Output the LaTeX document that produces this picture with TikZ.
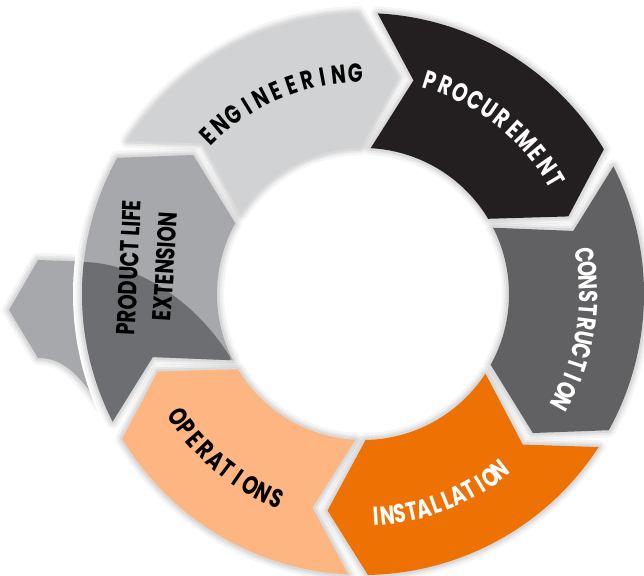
\documentclass[tikz,border=0pt]{standalone}
\usepackage{fontspec}
\newfontfamily\lblfont{Poppins}[FakeStretch=0.75]
\definecolor{engc}{HTML}{D1D2D4}
\definecolor{proc}{HTML}{231F20}
\definecolor{conc}{HTML}{616163}
\definecolor{insc}{HTML}{EE7203}
\definecolor{opsc}{HTML}{FDB682}
\definecolor{plec}{HTML}{A7A8AB}
\definecolor{pled}{HTML}{6D6E72}
\newcommand\lbl{\lblfont\bfseries\fontsize{26}{26}\selectfont}
\newcommand\segpath[2]{(#1:281pt) arc[start angle=#1, end angle=#2, radius=281pt] -- ({#2-10.3}:219.5pt) -- (#2:146pt) arc[start angle=#2, end angle=#1, radius=146pt] -- ({#1-10.3}:219.5pt) -- cycle}
\newcommand\xarrow{(-354,-16) -- (-325,34) -- (-265,32) -- (-262,-112) .. controls (-285,-80) and (-300,-64) .. (-325,-64) -- cycle}
\newlength\lbw
% letters placed one by one along an arc: #1 letters, #2 start angle, #3 end angle, #4 radius, #5 colour, #6 name
\newcommand\arclabel[6]{%
  \gdef\lbTot{0}\gdef\lbCnt{0}%
  \foreach \lbCh in {#1} {%
    \settowidth\lbw{\lbl\lbCh}%
    \pgfmathsetmacro\lbT{\lbTot+\lbw}\xdef\lbTot{\lbT}%
    \pgfmathtruncatemacro\lbC{\lbCnt+1}\xdef\lbCnt{\lbC}%
  }%
  \pgfmathsetmacro\lbDir{sign(#3-#2)}%
  \pgfmathsetmacro\lbLen{abs(#3-#2)*pi/180*#4}%
  \pgfmathsetmacro\lbGap{(\lbLen-\lbTot)/(\lbCnt-1)}%
  \gdef\lbAcc{0}%
  \foreach \lbCh [count=\lbI] in {#1} {%
    \settowidth\lbw{\lbl\lbCh}%
    \pgfmathsetmacro\lbAng{#2+\lbDir*deg((\lbAcc+\lbw/2)/#4)}%
    \pgfmathsetmacro\lbRot{\lbAng+\lbDir*90}%
    \node[lbltxt, text=#5, rotate=\lbRot] (#6\lbI) at (\lbAng:#4pt) {\lbCh};%
    \pgfmathsetmacro\lbA{\lbAcc+\lbw+\lbGap}\xdef\lbAcc{\lbA}%
  }%
}
\begin{document}
\begin{tikzpicture}[x=1pt,y=1pt,
  halo/.style={draw=black, line join=round, draw opacity=#1},
  lbltxt/.style={font=\lbl, inner sep=0pt, anchor=center}]
\useasboundingbox (-363,-281) rectangle (281,294);
\fill[white] (-363,-281) rectangle (281,294);
% branch arrow leaving the cycle
\foreach \w/\o in {14/0.04, 9/0.05, 5/0.06} { \draw[line width=\w pt, halo=\o] \xarrow; }
\fill[plec] \xarrow;
\fill[white] (0,0) circle[radius=290pt];
% shadows
\foreach \s in {147,87,27,-33,-93,-153} {
  \foreach \w/\o in {14/0.04, 9/0.05, 5/0.06} { \draw[line width=\w pt, halo=\o] \segpath{\s}{\s-56}; }
}
% segments
\fill[engc] \segpath{147}{91};
\fill[proc] \segpath{87}{31};
\fill[conc] \segpath{27}{-29};
\fill[insc] \segpath{-33}{-89};
\fill[opsc] \segpath{-93}{-149};
\fill[plec] \segpath{-153}{-209};
\begin{scope}
  \clip \segpath{-153}{-209};
  \fill[pled] (-400,32) -- (-281,32) .. controls (-228,32) and (-168,-6) .. (-133,-63) -- (-100,-300) -- (-400,-300) -- cycle;
\end{scope}
% labels
\arclabel{E,N,G,I,N,E,E,R,I,N,G}{134.4}{92}{221}{black}{eng}
\arclabel{P,R,O,C,U,R,E,M,E,N,T}{72.5}{30.7}{224}{white}{pro}
\arclabel{C,O,N,S,T,R,U,C,T,I,O,N}{10}{-28.8}{225.5}{white}{con}
\arclabel{I,N,S,T,A,L,L,A,T,I,O,N}{-86.7}{-52.1}{223}{white}{ins}
\arclabel{O,P,E,R,A,T,I,O,N,S}{-146.5}{-113}{222}{black}{ope}
\node[lbltxt, rotate=87.3] (ple1) at (-234,26.5) {PRODUCT LIFE};
\node[lbltxt, rotate=86.5] (ple2) at (-198,27.5) {EXTENSION};
\end{tikzpicture}
\end{document}
